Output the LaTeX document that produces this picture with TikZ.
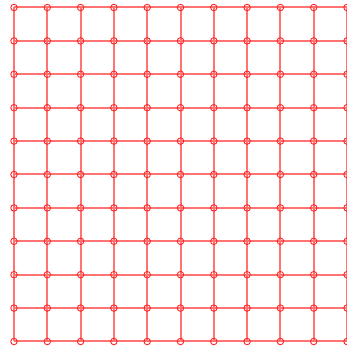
\documentclass[tikz,border=0pt]{standalone}
\begin{document}
\begin{tikzpicture}[x=1pt,y=1pt,
  gridline/.style={draw=red!55,line width=2pt},
  gpoint/.style={circle,draw=red!85,line width=0.9pt,minimum size=6.5pt,inner sep=0pt}]
\useasboundingbox (0,0) rectangle (347,350);
\foreach \i in {0,...,10}{
  \foreach \j in {0,...,10}{
    \coordinate (c-\i-\j) at ({14+33.3*\i},{350-7.5-33.4*\j});
  }
}
\foreach \i in {0,...,10}{
  \draw[gridline] (c-\i-0) -- (c-\i-10);
  \draw[gridline] (c-0-\i) -- (c-10-\i);
}
\foreach \i in {0,...,10}{
  \foreach \j in {0,...,10}{
    \node[gpoint] (n-\i-\j) at (c-\i-\j) {};
  }
}
\end{tikzpicture}
\end{document}
